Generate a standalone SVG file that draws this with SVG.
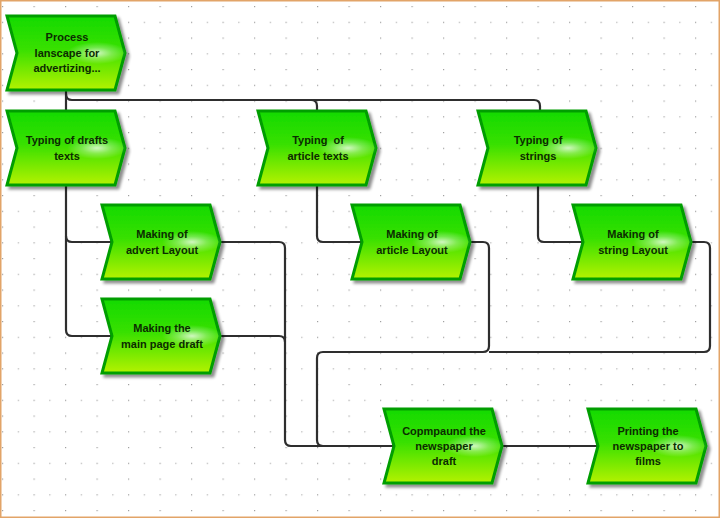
<svg xmlns="http://www.w3.org/2000/svg" width="720" height="518" viewBox="0 0 720 518">
<defs>
<pattern id="grid" x="2" y="6" width="31.5" height="31.5" patternUnits="userSpaceOnUse">
<rect x="0" y="0" width="1.2" height="1.2" fill="#a0a0a0"/>
<rect x="0" y="15.75" width="1.2" height="1.2" fill="#a0a0a0"/>
<rect x="15.75" y="15.75" width="1.2" height="1.2" fill="#b0b0b0"/>
</pattern>
<linearGradient id="fillG" x1="0" y1="0" x2="0" y2="1">
<stop offset="0" stop-color="#14da00"/>
<stop offset="0.45" stop-color="#38e000"/>
<stop offset="1" stop-color="#b4f200"/>
</linearGradient>
<radialGradient id="gloss" cx="0.5" cy="0.5" r="0.5">
<stop offset="0" stop-color="#ffffff" stop-opacity="0.75"/>
<stop offset="0.5" stop-color="#ffffff" stop-opacity="0.3"/>
<stop offset="1" stop-color="#ffffff" stop-opacity="0"/>
</radialGradient>
<filter id="shadow" x="-10%" y="-10%" width="130%" height="130%">
<feGaussianBlur in="SourceAlpha" stdDeviation="1.8"/>
<feOffset dx="3" dy="3" result="b"/>
<feComponentTransfer><feFuncA type="linear" slope="0.45"/></feComponentTransfer>
<feMerge><feMergeNode/><feMergeNode in="SourceGraphic"/></feMerge>
</filter>
<path id="chev" d="M0,0 H108 L118,37 L108,74 H0 L10,37 Z"/>
</defs>
<style>
.shape{fill:url(#fillG);stroke:#009e00;stroke-width:3;stroke-linejoin:miter;filter:url(#shadow)}
.gl{fill:url(#gloss)}
.t{font-family:"Liberation Sans",Arial,sans-serif;font-weight:bold;font-size:11px;fill:#0b2c00;text-anchor:middle}
.c{fill:none;stroke:#2e2e2e;stroke-width:2.2}
</style>
<rect x="0" y="0" width="720" height="518" fill="#ffffff"/>
<rect x="0" y="0" width="720" height="518" fill="url(#grid)"/>
<rect x="0.75" y="0.75" width="718.5" height="516.5" fill="none" stroke="#e2a468" stroke-width="1.5"/>

<g id="connectors">
<path class="c" d="M66,89 V111"/>
<path class="c" d="M66,94 Q66,100 72,100 H534 Q540,100 540,106 V111"/>
<path class="c" d="M311,100 Q317,100 317,106 V111"/>
<path class="c" d="M66,185 V330 Q66,336 72,336 H112"/>
<path class="c" d="M66,236 Q66,242 72,242 H112"/>
<path class="c" d="M317,185 V236 Q317,242 323,242 H362"/>
<path class="c" d="M538,185 V236 Q538,242 544,242 H583"/>
<path class="c" d="M220,242 H279 Q285,242 285,248 V440 Q285,446 291,446 H394"/>
<path class="c" d="M220,336 H279 Q285,336 285,342"/>
<path class="c" d="M470,242 H483 Q489,242 489,248 V346 Q489,352 483,352 H323 Q317,352 317,358 V440 Q317,446 323,446"/>
<path class="c" d="M692,242 H704 Q710,242 710,248 V346 Q710,352 704,352 H489"/>
<path class="c" d="M502,446 H598"/>
</g>

<g id="n1" transform="translate(7,16)">
<use href="#chev" class="shape"/>
<ellipse class="gl" cx="90" cy="37" rx="30" ry="11"/>
<text class="t" x="60" y="25">Process</text>
<text class="t" x="60" y="40.5">lanscape for</text>
<text class="t" x="60" y="56">advertizing...</text>
</g>

<g id="n2" transform="translate(7,111)">
<use href="#chev" class="shape"/>
<ellipse class="gl" cx="90" cy="37" rx="30" ry="11"/>
<text class="t" x="60" y="33">Typing of drafts</text>
<text class="t" x="60" y="49">texts</text>
</g>

<g id="n3" transform="translate(258,111)">
<use href="#chev" class="shape"/>
<ellipse class="gl" cx="90" cy="37" rx="30" ry="11"/>
<text class="t" x="60" y="33" xml:space="preserve">Typing  of</text>
<text class="t" x="60" y="49">article texts</text>
</g>

<g id="n4" transform="translate(478,111)">
<use href="#chev" class="shape"/>
<ellipse class="gl" cx="90" cy="37" rx="30" ry="11"/>
<text class="t" x="60" y="33">Typing of</text>
<text class="t" x="60" y="49">strings</text>
</g>

<g id="n5" transform="translate(102,205)">
<use href="#chev" class="shape"/>
<ellipse class="gl" cx="90" cy="37" rx="30" ry="11"/>
<text class="t" x="60" y="33">Making of</text>
<text class="t" x="60" y="49">advert Layout</text>
</g>

<g id="n6" transform="translate(352,205)">
<use href="#chev" class="shape"/>
<ellipse class="gl" cx="90" cy="37" rx="30" ry="11"/>
<text class="t" x="60" y="33">Making of</text>
<text class="t" x="60" y="49">article Layout</text>
</g>

<g id="n7" transform="translate(573,205)">
<use href="#chev" class="shape"/>
<ellipse class="gl" cx="90" cy="37" rx="30" ry="11"/>
<text class="t" x="60" y="33">Making of</text>
<text class="t" x="60" y="49">string Layout</text>
</g>

<g id="n8" transform="translate(102,299)">
<use href="#chev" class="shape"/>
<ellipse class="gl" cx="90" cy="37" rx="30" ry="11"/>
<text class="t" x="60" y="33">Making the</text>
<text class="t" x="60" y="49">main page draft</text>
</g>

<g id="n9" transform="translate(384,409)">
<use href="#chev" class="shape"/>
<ellipse class="gl" cx="90" cy="37" rx="30" ry="11"/>
<text class="t" x="60" y="26">Copmpaund the</text>
<text class="t" x="60" y="41">newspaper</text>
<text class="t" x="60" y="56">draft</text>
</g>

<g id="n10" transform="translate(588,409)">
<use href="#chev" class="shape"/>
<ellipse class="gl" cx="90" cy="37" rx="30" ry="11"/>
<text class="t" x="60" y="26">Printing the</text>
<text class="t" x="60" y="41">newspaper to</text>
<text class="t" x="60" y="56">films</text>
</g>
</svg>
